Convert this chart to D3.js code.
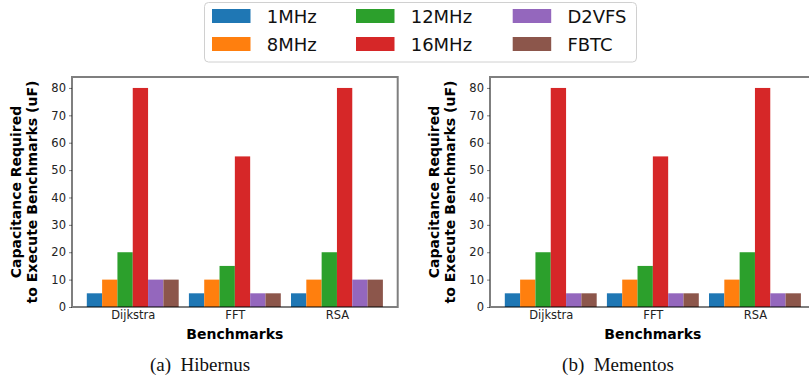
<!DOCTYPE html>
<html><head><meta charset="utf-8">
<script src="https://cdn.jsdelivr.net/npm/d3@7"></script>
<style>body{margin:0;background:#fff}svg{display:block}</style>
</head><body>
<svg id="chart" width="809" height="381"></svg>
<script>
const categories = ["Dijkstra", "FFT", "RSA"];
const seriesNames = ["1MHz", "8MHz", "12MHz", "16MHz", "D2VFS", "FBTC"];
const colors = ["#1f77b4", "#ff7f0e", "#2ca02c", "#d62728", "#9467bd", "#8c564b"];
const hibernus = {
  "1MHz": [5, 5, 5],
  "8MHz": [10, 10, 10],
  "12MHz": [20, 15, 20],
  "16MHz": [80, 55, 80],
  "D2VFS": [10, 5, 10],
  "FBTC": [10, 5, 10]
};
const mementos = {
  "1MHz": [5, 5, 5],
  "8MHz": [10, 10, 10],
  "12MHz": [20, 15, 20],
  "16MHz": [80, 55, 80],
  "D2VFS": [5, 5, 5],
  "FBTC": [5, 5, 5]
};
const yTicks = [0, 10, 20, 30, 40, 50, 60, 70, 80];
const panels = [
  {data: hibernus, caption: "(a)\u2002Hibernus", left: 72, capX: 200},
  {data: mementos, caption: "(b)\u2002Mementos", left: 490, capX: 618}
];

const svg = d3.select("#chart");
const FONT = "DejaVu Sans, sans-serif";
const axTop = 77, axBottom = 307, axW = 325.7;
const barW = 0.15;

panels.forEach(p => {
  const x = d3.scaleLinear().domain([-0.595, 2.595]).range([p.left, p.left + axW]);
  const y = d3.scaleLinear().domain([0, 84]).range([axBottom, axTop]);
  const g = svg.append("g");

  seriesNames.forEach((s, si) => {
    g.selectAll(null).data(p.data[s]).enter().append("rect")
      .attr("x", (d, i) => x(i + (si - 3) * barW))
      .attr("width", x(barW) - x(0))
      .attr("y", d => y(d))
      .attr("height", d => y(0) - y(d))
      .attr("fill", colors[si]);
  });

  const yAxis = d3.axisLeft(y).tickValues(yTicks).tickSize(3).tickPadding(3);
  const ya = g.append("g").attr("transform", `translate(${p.left},0)`).call(yAxis);
  ya.select(".domain").remove();
  ya.selectAll(".tick line").attr("stroke", "#000").attr("stroke-opacity", 0.5);
  ya.selectAll(".tick text").attr("font-family", FONT).attr("font-size", 11.5).attr("fill", "#222");

  const xAxis = d3.axisBottom(x).tickValues([0, 1, 2]).tickFormat(i => categories[i]).tickSize(0).tickPadding(4);
  const xa = g.append("g").attr("transform", `translate(0,${axBottom})`).call(xAxis);
  xa.select(".domain").remove();
  xa.selectAll(".tick text").attr("font-family", FONT).attr("font-size", 11.5).attr("fill", "#222");

  g.append("rect").attr("x", p.left).attr("y", axTop).attr("width", axW).attr("height", axBottom - axTop)
    .attr("fill", "none").attr("stroke", "#000").attr("stroke-opacity", 0.5).attr("stroke-width", 2);

  const cx = p.left + axW / 2;
  g.append("text").attr("x", cx).attr("y", 338.5).attr("text-anchor", "middle")
    .attr("font-family", FONT).attr("font-weight", "bold").attr("font-size", 14).text("Benchmarks");
  const ylab = g.append("text").attr("transform", `translate(${p.left - 51},${(axTop + axBottom) / 2}) rotate(-90)`)
    .attr("text-anchor", "middle").attr("font-family", FONT).attr("font-weight", "bold").attr("font-size", 14);
  ylab.append("tspan").attr("x", 0).attr("dy", 0).text("Capacitance Required");
  ylab.append("tspan").attr("x", 0).attr("dy", 16).text("to Execute Benchmarks (uF)");

  g.append("text").attr("x", p.capX).attr("y", 371).attr("text-anchor", "middle")
    .attr("font-family", "Liberation Serif, serif").attr("font-size", 19).attr("fill", "#111").text(p.caption);
});

const lg = svg.append("g");
lg.append("rect").attr("x", 204.5).attr("y", 2.5).attr("width", 432).attr("height", 59.5).attr("rx", 4)
  .attr("fill", "#fff").attr("stroke", "#d0d0d0").attr("stroke-width", 1);
const colX = [212, 356, 512.7];
const rowY = [9, 37];
seriesNames.forEach((s, i) => {
  const c = Math.floor(i / 2), r = i % 2;
  lg.append("rect").attr("x", colX[c]).attr("y", rowY[r]).attr("width", 38.5).attr("height", 14).attr("fill", colors[i]);
  lg.append("text").attr("x", colX[c] + 54.7).attr("y", rowY[r] + 14.3)
    .attr("font-family", FONT).attr("font-size", 18).attr("fill", "#111").text(s);
});
</script>
</body></html>
